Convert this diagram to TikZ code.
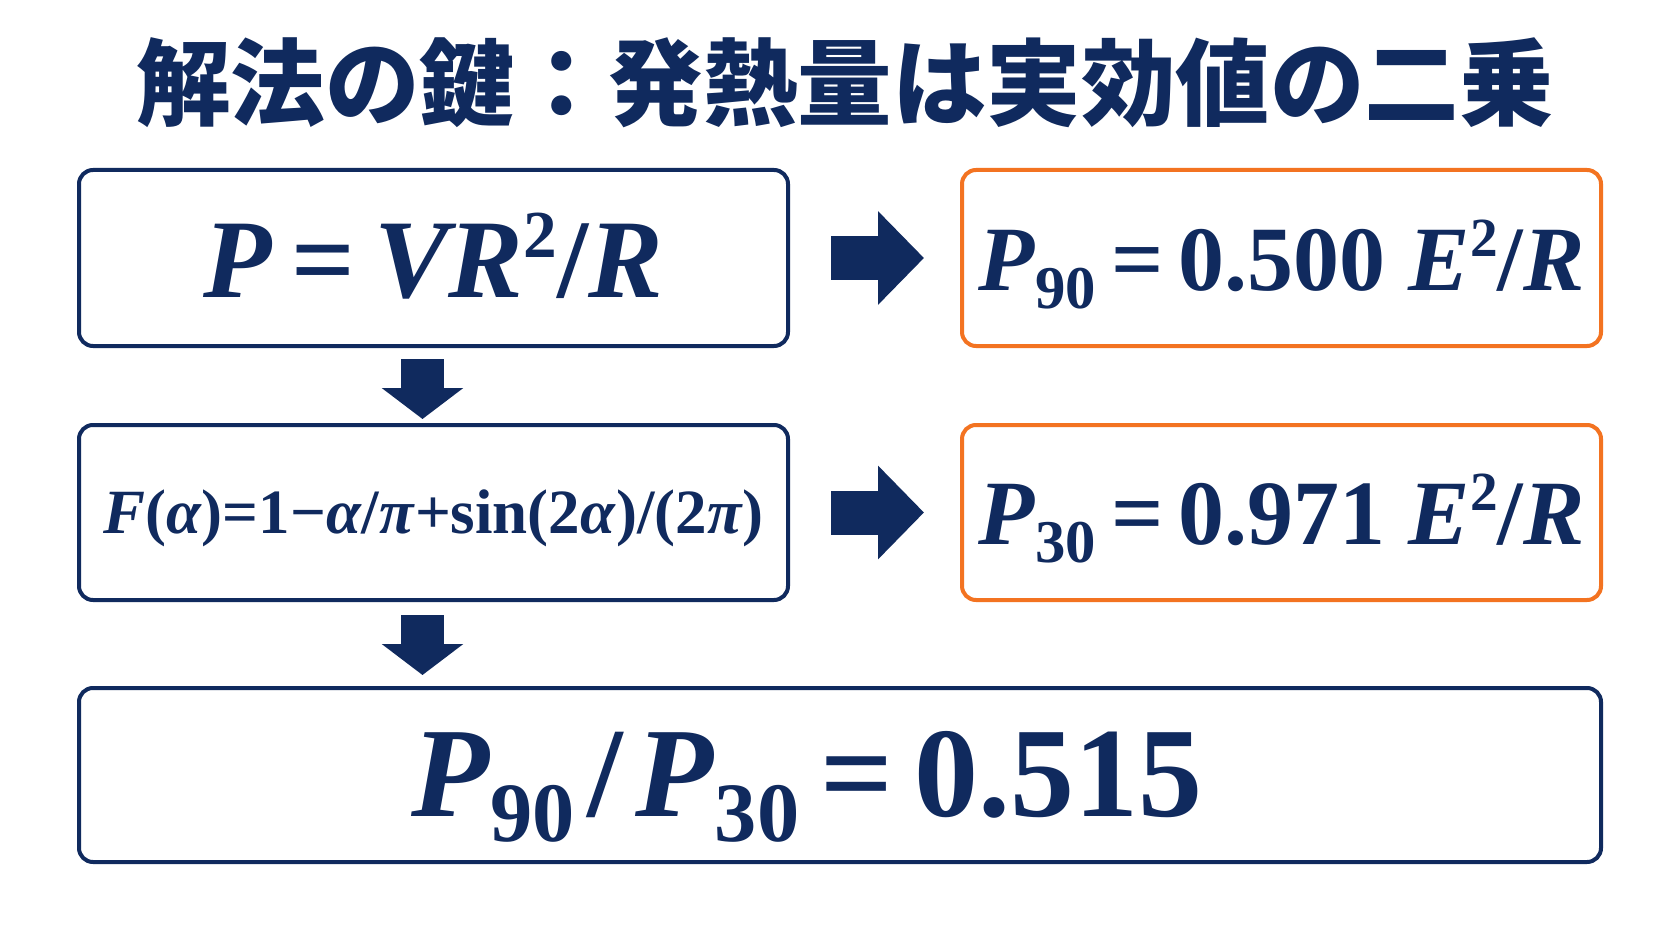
\documentclass[tikz,border=0pt]{standalone}
\usepackage{fontspec}
\usepackage{graphicx}
\setmainfont{Liberation Serif}
\newfontfamily\cjk{Noto Sans CJK JP}
\usetikzlibrary{arrows.meta}
\definecolor{navy}{HTML}{102A5E}
\definecolor{orng}{HTML}{F37321}
\newcommand{\lo}[1]{\raisebox{-0.2em}{\scalebox{0.66}{#1}}}
\newcommand{\hi}[1]{\raisebox{0.36em}{\scalebox{0.6}{#1}}}
\tikzset{
  box/.style={draw=navy, line width=4pt, rounded corners=14pt, text=navy, inner sep=0pt},
  hot/.style={box, draw=orng},
  rightarrow/.style={draw=navy, line width=44pt, -{Triangle[length=46pt,width=91pt]}},
  downarrow/.style={draw=navy, line width=43pt, -{Triangle[length=31pt,width=80pt]}},
}
\begin{document}
\begin{tikzpicture}[x=1pt,y=-1pt]
	\useasboundingbox[fill=white] (0,0) rectangle (1672,941);
	\path
	(845,83) coordinate (T)
	(433.5,258) coordinate (A)
	(1281.5,258) coordinate (B)
	(433.5,512.5) coordinate (C)
	(1281.5,512.5) coordinate (D)
	(840,775) coordinate (E)
	;
	\node[text=navy, font=\cjk\bfseries\fontsize{94.5}{104}\selectfont] (title) at (T) {解法の鍵：発熱量は実効値の二乗};
	\node[box, minimum width=709pt, minimum height=176pt, text height=80pt, text depth=0pt,
		font=\bfseries\fontsize{112}{116}\selectfont] (pw) at (A)
		{\textit{P}\,=\,\textit{VR}\hi{2}/\textit{R}};
	\node[hot, minimum width=639pt, minimum height=176pt, text height=64pt, text depth=0pt,
		font=\bfseries\fontsize{92}{100}\selectfont] (p90) at (B)
		{\textit{P}\lo{90}\,=\,0.500 \textit{E}\hi{2}/\textit{R}};
	\node[box, minimum width=709pt, minimum height=175pt, text height=41pt, text depth=0pt,
		font=\bfseries\fontsize{63}{68}\selectfont] (fa) at (C)
		{\textit{F}(\textit{α})=1−\textit{α}/\textit{π}+sin(2\textit{α})/(2\textit{π})};
	\node[hot, minimum width=639pt, minimum height=175pt, text height=63pt, text depth=0pt,
		font=\bfseries\fontsize{92}{100}\selectfont] (p30) at (D)
		{\textit{P}\lo{30}\,=\,0.971 \textit{E}\hi{2}/\textit{R}};
	\node[box, minimum width=1522pt, minimum height=174pt, text height=82pt, text depth=0pt,
		font=\bfseries\fontsize{128}{132}\selectfont] (ratio) at (E)
		{\textit{P}\lo{90}\hspace{0.1em}/\hspace{0.1em}\textit{P}\lo{30}\,=\,0.515\hspace*{66pt}};
	% block arrows
	\draw[rightarrow, shorten <=41pt, shorten >=36pt] (pw) -- (p90);
	\draw[rightarrow, shorten <=41pt, shorten >=36pt] (fa) -- (p30);
	\draw[downarrow, shorten <=11pt, shorten >=4pt] ([xshift=-11pt]pw.south) -- ([xshift=-11pt]fa.north);
	\draw[downarrow, shorten <=13pt, shorten >=11pt] ([xshift=-11pt]fa.south) -- ([xshift=-11pt]fa.south |- ratio.north);
\end{tikzpicture}
\end{document}
